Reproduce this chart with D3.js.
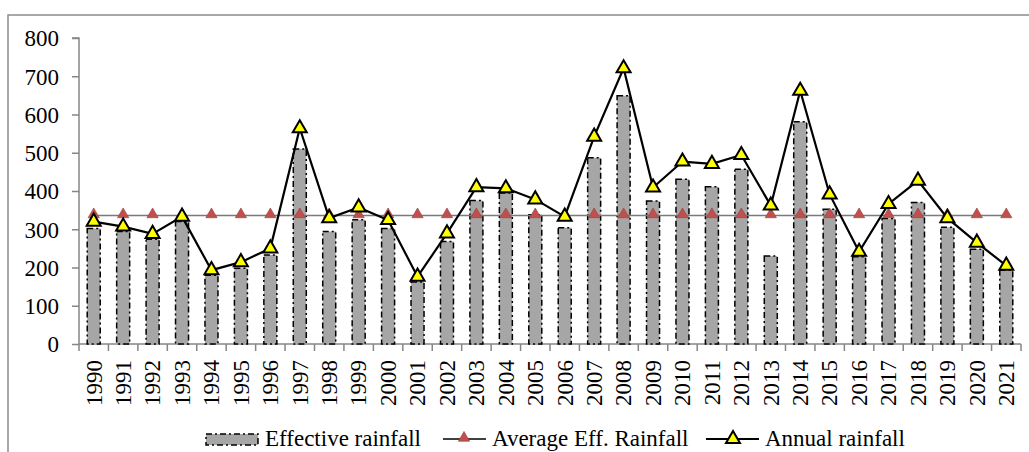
<!DOCTYPE html>
<html><head><meta charset="utf-8">
<script src="https://cdn.jsdelivr.net/npm/d3@7"></script>
<style>body{margin:0;background:#fff}svg{display:block}text{font-family:"Liberation Serif","Times New Roman",serif;fill:#000}</style>
</head><body>
<svg id="c" width="1029" height="452"></svg>
<script>
const years = [1990,1991,1992,1993,1994,1995,1996,1997,1998,1999,2000,2001,2002,2003,2004,2005,2006,2007,2008,2009,2010,2011,2012,2013,2014,2015,2016,2017,2018,2019,2020,2021];
const effective = [302,294,274,320,180,198,233,510,294,325,302,162,268,375,395,338,304,487,649,374,431,411,457,230,581,352,228,328,370,305,248,193];
const annual = [320,307,288,333,193,214,250,564,329,357,324,176,289,410,407,378,333,542,721,409,477,471,494,362,662,391,241,366,427,329,265,205];
const averageEff = 336;
const yTicks = [0,100,200,300,400,500,600,700,800];
const seriesNames = ["Effective rainfall","Average Eff. Rainfall","Annual rainfall"];

const svg = d3.select("#c");
const pLeft = 79, pRight = 1021, pTop = 38, pBottom = 344;
const fs = 23;

svg.append("rect").attr("x",8).attr("y",15).attr("width",1040).attr("height",460)
  .attr("fill","none").attr("stroke","#8c8c8c").attr("stroke-width",1.5);

const x = d3.scaleBand().domain(years).range([pLeft,pRight]);
const y = d3.scaleLinear().domain([0,800]).range([pBottom,pTop]);
const cx = d => x(d) + x.bandwidth()/2;

// y axis
const yAxis = svg.append("g").attr("transform",`translate(${pLeft},0)`)
  .call(d3.axisLeft(y).tickValues(yTicks).tickSize(7).tickPadding(13));
yAxis.select(".domain").attr("stroke","#868686").attr("stroke-width",1.5).attr("d",`M-7,${pTop}H0V${pBottom}`);
yAxis.selectAll(".tick line").attr("stroke","#868686").attr("stroke-width",1.5);
yAxis.selectAll(".tick text").attr("font-size",fs).attr("dy","0.34em").style("font-family","Liberation Serif");

// x axis
const xg = svg.append("g").attr("transform",`translate(0,${pBottom})`);
xg.append("line").attr("x1",pLeft).attr("x2",pRight).attr("stroke","#868686").attr("stroke-width",1.5);
const bounds = years.map(d=>x(d)).concat([pRight]);
xg.selectAll("line.t").data(bounds).join("line").attr("class","t")
  .attr("x1",d=>d).attr("x2",d=>d).attr("y1",0).attr("y2",7).attr("stroke","#868686").attr("stroke-width",1.5);
xg.selectAll("text").data(years).join("text")
  .attr("transform",d=>`translate(${cx(d)},16) rotate(-90)`)
  .attr("text-anchor","end").attr("dy","0.34em").attr("font-size",fs).text(d=>d);

// bars
const bw = 13;
svg.append("g").selectAll("rect").data(years).join("rect")
  .attr("x",(d)=>cx(d)-bw/2).attr("width",bw)
  .attr("y",(d,i)=>y(effective[i])).attr("height",(d,i)=>pBottom-y(effective[i]))
  .attr("fill","#a6a6a6").attr("stroke","#000").attr("stroke-width",1.5)
  .attr("stroke-dasharray","6,3,2,3");

// average line
const tri = d3.symbol().type(d3.symbolTriangle);
svg.append("path").attr("d",d3.line().x(d=>cx(d)).y(()=>y(averageEff))(years))
  .attr("fill","none").attr("stroke","#7a7a7a").attr("stroke-width",1.5);
svg.append("g").selectAll("path").data(years).join("path")
  .attr("d",tri.size(55)()).attr("transform",d=>`translate(${cx(d)},${y(averageEff)-1})`)
  .attr("fill","#c0504d").attr("stroke","#9b3b38").attr("stroke-width",0.6);

// annual line
svg.append("path").attr("d",d3.line().x(d=>cx(d)).y((d,i)=>y(annual[i]))(years))
  .attr("fill","none").attr("stroke","#000").attr("stroke-width",2.2);
svg.append("g").selectAll("path").data(years).join("path")
  .attr("d",tri.size(85)()).attr("transform",(d,i)=>`translate(${cx(d)},${y(annual[i])})`)
  .attr("fill","#ffff00").attr("stroke","#000").attr("stroke-width",2);

// legend
const lg = svg.append("g");
const ly = 439;
lg.append("rect").attr("x",206).attr("y",434).attr("width",52).attr("height",11)
  .attr("fill","#a6a6a6").attr("stroke","#000").attr("stroke-width",1.5).attr("stroke-dasharray","6,3,2,3");
lg.append("text").attr("x",265).attr("y",446).attr("font-size",fs).text(seriesNames[0]);
lg.append("line").attr("x1",443).attr("x2",486).attr("y1",ly).attr("y2",ly).attr("stroke","#000").attr("stroke-width",1.3);
lg.append("path").attr("d",tri.size(55)()).attr("transform",`translate(464,${ly-1})`)
  .attr("fill","#c0504d").attr("stroke","#9b3b38").attr("stroke-width",0.6);
lg.append("text").attr("x",492).attr("y",446).attr("font-size",fs).text(seriesNames[1]);
lg.append("line").attr("x1",706).attr("x2",759).attr("y1",ly).attr("y2",ly).attr("stroke","#000").attr("stroke-width",2.2);
lg.append("path").attr("d",tri.size(85)()).attr("transform",`translate(733,${ly})`)
  .attr("fill","#ffff00").attr("stroke","#000").attr("stroke-width",2);
lg.append("text").attr("x",765).attr("y",446).attr("font-size",fs).text(seriesNames[2]);
</script>
</body></html>
